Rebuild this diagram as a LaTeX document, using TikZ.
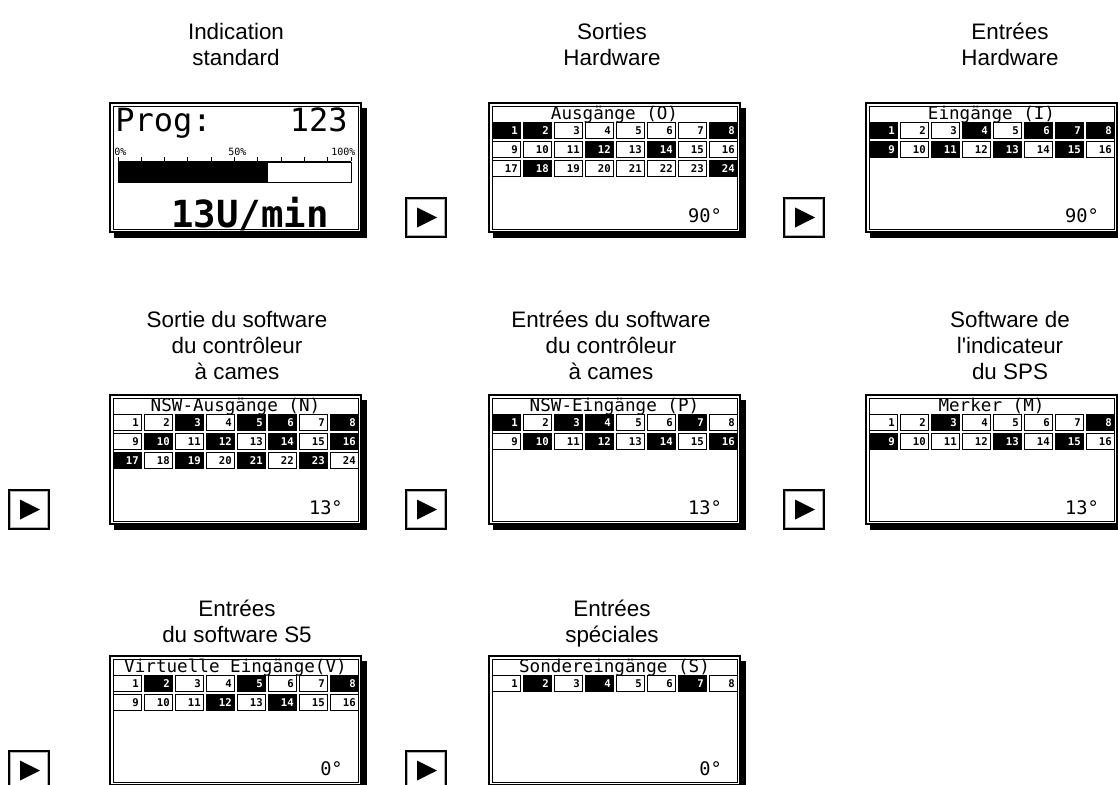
\documentclass[tikz,border=0pt]{standalone}
\usepackage{fontspec}
\setmainfont{Liberation Sans}[Ligatures=TeXOff]
\newfontfamily\lcdfont{DejaVu Sans Mono}
\def\cB{B}
\tikzset{
  lbl/.style={font=\fontsize{16.8}{19.5}\selectfont, align=center, anchor=base, inner sep=0pt},
  scr/.style={draw=black, line width=1.5pt, fill=white, minimum width=188.25pt, minimum height=96.75pt, inner sep=0pt},
  btn/.style={draw=black, line width=1.1pt, fill=white, minimum width=30pt, minimum height=29.25pt, inner sep=0pt},
  ttl/.style={font=\lcdfont\fontsize{13.2}{13.2}\selectfont, anchor=base, inner sep=0pt},
  val/.style={font=\lcdfont\fontsize{14}{14}\selectfont, anchor=base east, inner sep=0pt},
  num/.style={font=\lcdfont\bfseries\fontsize{8}{8}\selectfont, anchor=base east, inner sep=0pt},
  tiny/.style={font=\lcdfont\fontsize{7.5}{7.5}\selectfont, anchor=base west, inner sep=0pt},
}
\newcommand\drawscreen[3]{%
  \fill (#2+4,#3+130) rectangle (#2+257,#3+135);
  \fill (#2+252,#3+5) rectangle (#2+257,#3+135);
  \node[scr] (#1) at (#2+125.5,#3+64.5) {};
  \draw[line width=0.75pt] (#2+3,#3+3) rectangle (#2+248,#3+126);
}
\newcommand\cellrow[5]{%
  \foreach \s [count=\i] in {#5} {%
    \pgfmathsetmacro\cx{#2+3+(\i-1)*31}%
    \pgfmathsetmacro\cy{#3+19+(#4-1)*19}%
    \pgfmathtruncatemacro\n{(#4-1)*8+\i}%
    \ifx\s\cB \def\cf{black}\def\ct{white}\else \def\cf{white}\def\ct{black}\fi
    \draw[fill=\cf, line width=0.75pt] (\cx,\cy) rectangle ++(28,16);
    \node[num, text=\ct] (#1-\n) at (\cx+26,\cy+12) {\n};
  }%
}
\newcommand\drawbutton[3]{%
  \node[btn] (#1) at (#2+20,#3+19.5) {};
  \draw[gray!60, line width=0.75pt] ([shift={(2.5,2.5)}]#1.north west) rectangle ([shift={(-2.5,-2.5)}]#1.south east);
  \fill (#1.center) ++(-9,-10) -- ++(20,10) -- ++(-20,10) -- cycle;
}
\begin{document}
\begin{tikzpicture}[x=0.75pt,y=-0.75pt]
\useasboundingbox (0,0) rectangle (1118,785);

% labels (anchor = baseline of last line)
\node[lbl] (l11) at (236,65) {Indication\\standard};
\node[lbl] (l12) at (612,65) {Sorties\\Hardware};
\node[lbl] (l13) at (1010,65) {Entrées\\Hardware};
\node[lbl] (l21) at (237,379) {Sortie du software\\du contrôleur\\à cames};
\node[lbl] (l22) at (611,379) {Entrées du software\\du contrôleur\\à cames};
\node[lbl] (l23) at (1010,379) {Software de\\l'indicateur\\du SPS};
\node[lbl] (l31) at (237,642) {Entrées\\du software S5};
\node[lbl] (l32) at (612,642) {Entrées\\spéciales};

% buttons
\drawbutton{b12}{406}{198}
\drawbutton{b13}{784}{198}
\drawbutton{b21}{9}{490}
\drawbutton{b22}{406}{490}
\drawbutton{b23}{784}{490}
\drawbutton{b31}{9}{751}
\drawbutton{b32}{406}{751}

% screen 1: standard
\drawscreen{s11}{110}{103}
\node[font=\lcdfont\fontsize{24}{24}\selectfont, anchor=base west, inner sep=0pt] (prog) at (115,131) {Prog:};
\node[font=\lcdfont\fontsize{24}{24}\selectfont, anchor=base east, inner sep=0pt] (pnum) at (348,131) {123};
\node[tiny] (p0) at (114,155) {0\%};
\node[tiny] (p50) at (228,155) {50\%};
\node[tiny] (p100) at (331,155) {100\%};
\draw[line width=0.75pt] (118,161) -- (351,161);
\foreach \k in {0,...,10} \draw[line width=0.75pt] (118+\k*23.3,161) -- ++(0,-4);
\fill (118,162) rectangle (268,182);
\draw[line width=0.75pt] (118,162) rectangle (351,182);
\node[font=\lcdfont\bfseries\fontsize{28}{28}\selectfont, anchor=base, inner sep=0pt] (speed) at (250,227) {13U/min};

% screen 2: Ausgaenge
\drawscreen{s12}{489}{103}
\node[ttl] (s12-t) at (614.5,119) {Ausgänge (O)};
\cellrow{s12}{489}{103}{1}{B,B,W,W,W,W,W,B}
\cellrow{s12}{489}{103}{2}{W,W,W,B,W,B,W,W}
\cellrow{s12}{489}{103}{3}{W,B,W,W,W,W,W,B}
\node[val] (s12-v) at (722,222) {90°};

% screen 3: Eingaenge
\drawscreen{s13}{866}{103}
\node[ttl] (s13-t) at (991.5,119) {Eingänge (I)};
\cellrow{s13}{866}{103}{1}{B,W,W,B,W,B,B,B}
\cellrow{s13}{866}{103}{2}{B,W,B,W,B,W,B,W}
\node[val] (s13-v) at (1099,222) {90°};

% screen 4: NSW-Ausgaenge
\drawscreen{s21}{110}{395}
\node[ttl] (s21-t) at (235.5,411) {NSW-Ausgänge (N)};
\cellrow{s21}{110}{395}{1}{W,W,B,W,B,B,W,B}
\cellrow{s21}{110}{395}{2}{W,B,W,B,W,B,W,B}
\cellrow{s21}{110}{395}{3}{B,W,B,W,B,W,B,W}
\node[val] (s21-v) at (343,514) {13°};

% screen 5: NSW-Eingaenge
\drawscreen{s22}{489}{395}
\node[ttl] (s22-t) at (614.5,411) {NSW-Eingänge (P)};
\cellrow{s22}{489}{395}{1}{B,W,B,B,W,W,B,W}
\cellrow{s22}{489}{395}{2}{W,B,W,B,W,B,W,B}
\node[val] (s22-v) at (722,514) {13°};

% screen 6: Merker
\drawscreen{s23}{866}{395}
\node[ttl] (s23-t) at (991.5,411) {Merker (M)};
\cellrow{s23}{866}{395}{1}{W,W,B,W,W,W,W,B}
\cellrow{s23}{866}{395}{2}{B,W,W,W,B,W,B,W}
\node[val] (s23-v) at (1099,514) {13°};

% screen 7: Virtuelle Eingaenge
\drawscreen{s31}{110}{656}
\node[ttl] (s31-t) at (235.5,672) {Virtuelle Eingänge(V)};
\cellrow{s31}{110}{656}{1}{W,B,W,W,B,W,W,B}
\cellrow{s31}{110}{656}{2}{W,W,W,B,W,B,W,W}
\node[val] (s31-v) at (343,775) {0°};

% screen 8: Sondereingaenge
\drawscreen{s32}{489}{656}
\node[ttl] (s32-t) at (614.5,672) {Sondereingänge (S)};
\cellrow{s32}{489}{656}{1}{W,B,W,B,W,W,B,W}
\node[val] (s32-v) at (722,775) {0°};
\end{tikzpicture}
\end{document}
